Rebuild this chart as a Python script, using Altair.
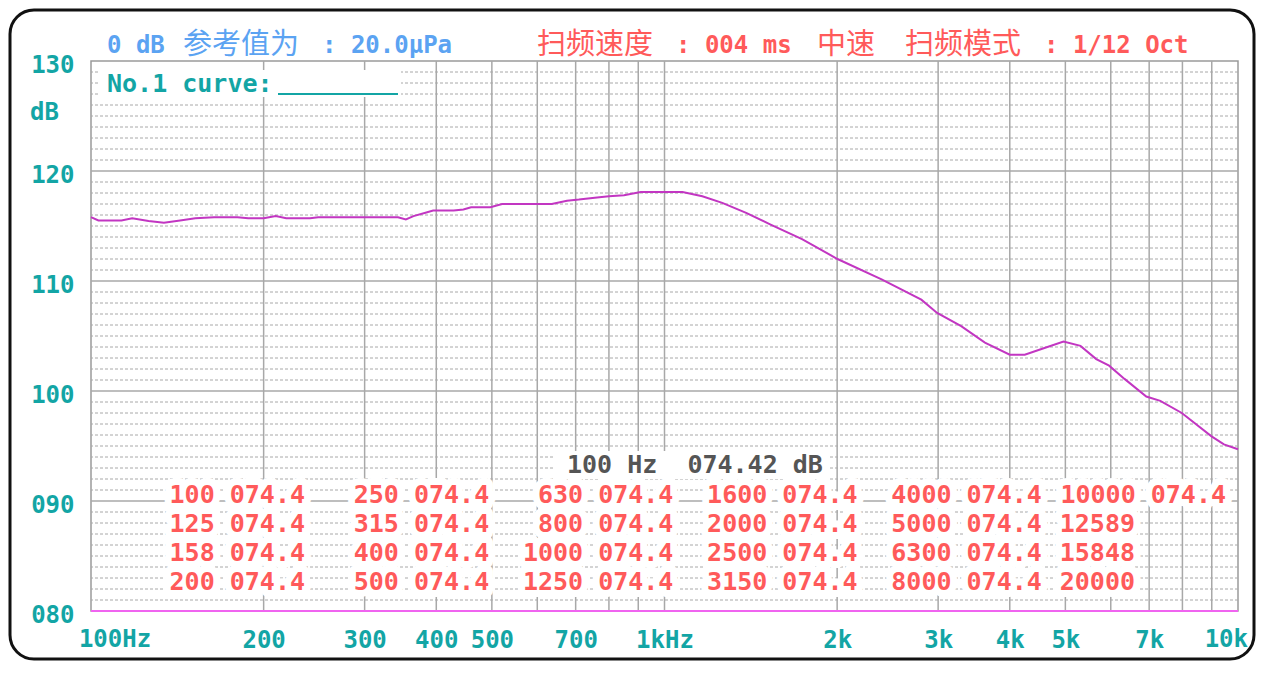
import altair as alt
import pandas as pd

# ---------------- data ----------------
freq_hz = [100, 103, 113, 118, 126, 134, 143, 152, 164, 180, 188, 200, 210, 219, 241, 249,
           343, 354, 365, 383, 395, 429, 446, 460, 497, 521, 636, 676, 709, 763, 800, 850,
           909, 1000, 1075, 1164, 1261, 1388, 1528, 1737, 2003, 2391, 2804, 2988, 3291, 3620,
           4000, 4248, 4530, 4963, 5313, 5660, 5960, 6340, 6920, 7320, 7980, 8980, 9450, 10000]
level_db = [115.8, 115.5, 115.5, 115.7, 115.45, 115.3, 115.5, 115.7, 115.8, 115.8, 115.7, 115.7,
            115.9, 115.7, 115.7, 115.8, 115.8, 115.6, 115.9, 116.2, 116.4, 116.4, 116.5, 116.7,
            116.7, 117.0, 117.0, 117.3, 117.4, 117.6, 117.7, 117.8, 118.1, 118.1, 118.1, 117.7,
            117.1, 116.2, 115.15, 113.8, 112.0, 110.15, 108.3, 107.1, 105.9, 104.4, 103.3, 103.3,
            103.8, 104.5, 104.1, 102.9, 102.3, 101.1, 99.5, 99.1, 98.0, 95.9, 95.15, 94.7]

y_major = [80, 90, 100, 110, 120, 130]
y_minor = [81, 82, 83, 84, 85, 86, 87, 88, 89, 91, 92, 93, 94, 95, 96, 97, 98, 99,
           101, 102, 103, 104, 105, 106, 107, 108, 109, 111, 112, 113, 114, 115, 116, 117, 118, 119,
           121, 122, 123, 124, 125, 126, 127, 128, 129]
x_grid = [200, 300, 400, 500, 600, 700, 800, 900, 1000, 2000, 3000, 4000, 5000, 6000, 7000, 8000, 9000]
x_label_vals = [200, 300, 400, 500, 700, 1000, 2000, 3000, 4000, 5000, 7000]
x_end_labels = ["100Hz", "10k"]

table_freqs = [100, 125, 158, 200, 250, 315, 400, 500, 630, 800, 1000, 1250,
               1600, 2000, 2500, 3150, 4000, 5000, 6300, 8000, 10000, 12589, 15848, 20000]
table_levels = ["074.4"] * 21 + ["", "", ""]
table_col = [0, 0, 0, 0, 1, 1, 1, 1, 2, 2, 2, 2, 3, 3, 3, 3, 4, 4, 4, 4, 5, 5, 5, 5]
table_row = [0, 1, 2, 3] * 6

header_left = ["0 dB", "参考值为", ": 20.0μPa"]
header_right = ["扫频速度", ": 004 ms", "中速", "扫频模式", ": 1/12 Oct"]
readout = "100 Hz \u00a0074.42 dB"
curve_name = "No.1 curve:"
unit = "dB"

# ---------------- style ----------------
W, H = 1147, 550
MONO = "DejaVu Sans Mono"
CJK = "Noto Sans CJK SC"
TEAL = "#13a5a5"
BLUE = "#5ba3f2"
RED = "#ff5a5a"
GRID = "#a8a8a8"

xs = alt.Scale(type="log", domain=[100, 10000], nice=False)
ys = alt.Scale(domain=[80, 130], nice=False, zero=False)

one = pd.DataFrame({"k": [0]})


def label(txt, x, y, color, size, weight="normal", font=MONO, align="left", baseline="alphabetic"):
    return alt.Chart(pd.DataFrame({"t": [txt]})).mark_text(
        align=align, baseline=baseline, font=font, fontSize=size, fontWeight=weight, color=color
    ).encode(x=alt.value(x), y=alt.value(y), text="t:N")


frame = alt.Chart(one).mark_rect(fill="white", fillOpacity=0, stroke="#111111", strokeWidth=3,
                                 cornerRadius=24).encode(
    x=alt.value(-81), x2=alt.value(1163), y=alt.value(-51), y2=alt.value(598))

minor = alt.Chart(pd.DataFrame({"db": y_minor})).mark_rule(
    color=GRID, strokeWidth=1, strokeDash=[3, 2]).encode(y=alt.Y("db:Q", scale=ys, axis=None))
major = alt.Chart(pd.DataFrame({"db": y_major[1:-1]})).mark_rule(
    color=GRID, strokeWidth=1.5).encode(y=alt.Y("db:Q", scale=ys, axis=None))
vgrid = alt.Chart(pd.DataFrame({"f": x_grid})).mark_rule(
    color=GRID, strokeWidth=1.5).encode(x=alt.X("f:Q", scale=xs, axis=None))
base80 = alt.Chart(pd.DataFrame({"db": [80]})).mark_rule(
    color="#f064f0", strokeWidth=2).encode(y=alt.Y("db:Q", scale=ys, axis=None))

curve_df = pd.DataFrame({"freq": freq_hz, "db": level_db})
curve = alt.Chart(curve_df).mark_line(color="#c236c2", strokeWidth=2).encode(
    x=alt.X("freq:Q", scale=xs, title=None, axis=alt.Axis(
        orient="bottom", values=x_label_vals, grid=False, ticks=False, domain=False, tickSize=0,
        labelExpr="datum.value == 1000 ? '1kHz' : (datum.value >= 2000 ? (datum.value / 1000) + 'k' : '' + datum.value)",
        labelFont=MONO, labelFontSize=24, labelFontWeight="bold", labelColor=TEAL,
        labelPadding=29, labelBaseline="middle", labelAlign="center", labelOverlap=False, zindex=2)),
    y=alt.Y("db:Q", scale=ys, title=None, axis=alt.Axis(
        orient="left", values=y_major, format="03d", grid=False, ticks=False, domain=False, tickSize=0,
        labelFont=MONO, labelFontSize=24, labelFontWeight="bold", labelColor=TEAL,
        labelPadding=17, labelOffset=4, labelBaseline="middle", zindex=2)),
)

x100 = alt.Chart(pd.DataFrame({"f": [100], "t": [x_end_labels[0]]})).mark_text(
    align="center", baseline="middle", font=MONO, fontSize=24, fontWeight="bold", color=TEAL, dx=24
).encode(x=alt.X("f:Q", scale=xs, axis=None), y=alt.value(H + 29), text="t:N")
x10k = alt.Chart(pd.DataFrame({"f": [10000], "t": [x_end_labels[1]]})).mark_text(
    align="right", baseline="middle", font=MONO, fontSize=24, fontWeight="bold", color=TEAL, dx=10
).encode(x=alt.X("f:Q", scale=xs, axis=None), y=alt.value(H + 29), text="t:N")

# header
hdr = [
    label(header_left[0], 16, -8, BLUE, 24, weight="bold"),
    label(header_left[1], 92, -7, BLUE, 29, font=CJK),
    label(header_left[2], 231, -8, BLUE, 24, weight="bold"),
    label(header_right[0], 446, -7, RED, 29, font=CJK),
    label(header_right[1], 585, -8, RED, 24, weight="bold"),
    label(header_right[2], 726, -7, RED, 29, font=CJK),
    label(header_right[3], 814, -7, RED, 29, font=CJK),
    label(header_right[4], 953, -8, RED, 24, weight="bold"),
]

# curve name box
name_bg = alt.Chart(one).mark_rect(fill="white").encode(
    x=alt.value(9), x2=alt.value(310), y=alt.value(9), y2=alt.value(36))
name_txt = label(curve_name, 16, 31, TEAL, 25, weight="bold")
name_line = alt.Chart(one).mark_rule(color=TEAL, strokeWidth=2).encode(
    x=alt.value(187), x2=alt.value(307), y=alt.value(33))
unit_txt = label(unit, -61, 59, TEAL, 24, weight="bold")

# readout box
read_bg = alt.Chart(one).mark_rect(fill="white").encode(
    x=alt.value(462), x2=alt.value(739), y=alt.value(390), y2=alt.value(418))
read_txt = label(readout, 476, 412, "#555555", 25, weight="bold")

# table
tdf = pd.DataFrame({"f": table_freqs, "lv": table_levels, "col": table_col, "row": table_row})
tdf["t"] = [f"{f} {lv}" if lv else f"{f}" for f, lv in zip(tdf["f"], tdf["lv"])]
tdf["full"] = [1 if lv else 0 for lv in tdf["lv"]]
tx = alt.X("col:Q", scale=alt.Scale(domain=[0, 5], range=[214, 1135]), axis=None)
ty = alt.Y("row:Q", scale=alt.Scale(domain=[0, 3], range=[442, 529]), axis=None)


def table_layer(full, dx, halo):
    if halo:
        mk = alt.Chart(tdf).mark_text(align="right", baseline="alphabetic", font=MONO, fontSize=25,
                                      fontWeight="bold", fill="white", stroke="white", strokeWidth=14,
                                      strokeJoin="round", dx=dx)
    else:
        mk = alt.Chart(tdf).mark_text(align="right", baseline="alphabetic", font=MONO, fontSize=25,
                                      fontWeight="bold", color=RED, dx=dx)
    return mk.transform_filter(alt.datum.full == full).encode(x=tx, y=ty, text="t:N")


table = [table_layer(1, 0, True), table_layer(0, -91, True),
         table_layer(1, 0, False), table_layer(0, -91, False)]

chart = alt.layer(
    frame, minor, major, vgrid, base80, curve, x100, x10k,
    *hdr, name_bg, name_txt, name_line, unit_txt, read_bg, read_txt, *table
).resolve_scale(x="independent", y="independent").properties(
    width=W, height=H,
    autosize=alt.AutoSizeParams(type="none"),
    padding={"left": 83, "top": 53, "right": 18, "bottom": 52},
).configure_view(stroke="#9a9a9a", strokeWidth=1.5)

chart.save("out.html", embed_options={"renderer": "svg", "actions": False})
